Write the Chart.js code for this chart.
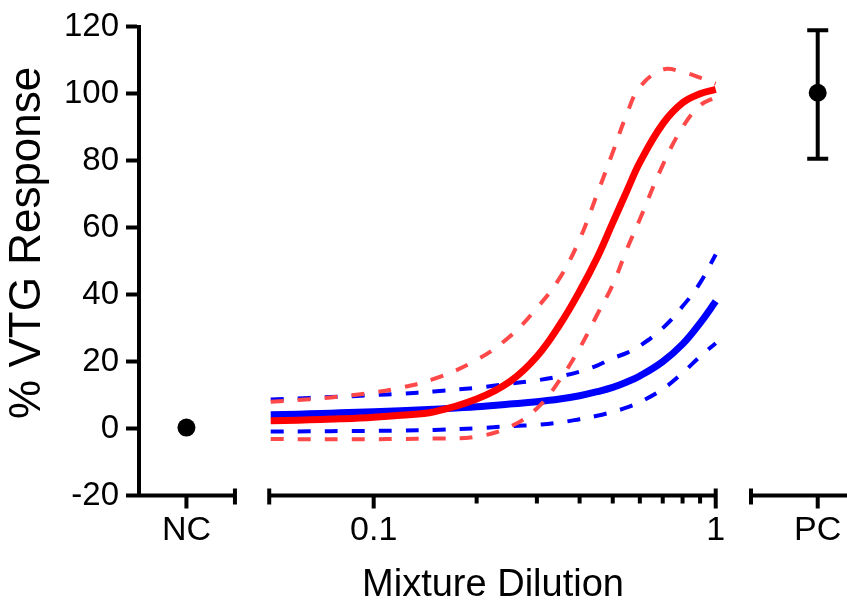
<!DOCTYPE html>
<html>
<head>
<meta charset="utf-8">
<script src="https://cdn.jsdelivr.net/npm/chart.js@4"></script>
<style>html, body { margin: 0; background: #fff; }</style>
</head>
<body>
<canvas id="chart" width="847" height="607"></canvas>
<script>
// Dose-response fits (red / blue) with 95% bands, plus NC and PC controls.

const DILUTION = [0.05, 0.06, 0.07, 0.08, 0.1, 0.12, 0.15, 0.2, 0.25, 0.3,
  0.35, 0.4, 0.45, 0.5, 0.55, 0.6, 0.7, 0.8, 0.9, 1.0];

const RED_FIT = [2.3, 2.5, 2.7, 2.9, 3.4, 4.0, 5.0, 8.8, 14, 21.5,
  31, 41, 51, 61.5, 71, 79.5, 91, 97.3, 100, 101.3];
const RED_UPPER = [8.0, 8.5, 9.0, 9.6, 10.8, 12.2, 14.8, 20.5, 27.5, 36,
  45, 56.5, 70, 82.5, 94, 102, 107.2, 106.5, 104.8, 103];
const RED_LOWER = [-3.1, -3.2, -3.2, -3.2, -3.2, -3.1, -3.0, -2.4, 0.5, 6,
  14.5, 24, 34, 43, 53.6, 62.5, 78.7, 90, 96.5, 99];

const BLUE_FIT = [4.1, 4.3, 4.5, 4.7, 5.0, 5.3, 5.8, 6.5, 7.3, 8.0,
  8.8, 9.8, 11, 12.3, 13.9, 15.7, 20, 25.2, 31.5, 38];
const BLUE_UPPER = [8.7, 9.0, 9.3, 9.5, 10.0, 10.4, 11.1, 12.2, 13.4, 14.4,
  15.6, 17.0, 18.8, 21, 22.6, 24.7, 30, 36.5, 43.5, 52];
const BLUE_LOWER = [-0.9, -0.85, -0.8, -0.75, -0.7, -0.6, -0.4, 0.1, 0.7, 1.1,
  1.8, 2.8, 3.8, 5.0, 6.3, 7.9, 11.8, 16.6, 21.5, 25.5];

const NC_MEAN = [0.3];
const PC_MEAN = [100.3];
const PC_LOW = [80.6];
const PC_HIGH = [119];

const X_LABELS = ['NC', '0.1', '1', 'PC'];
const X_MINOR = [0.2, 0.3, 0.4, 0.5, 0.6, 0.7, 0.8, 0.9];
const Y_TICKS = [-20, 0, 20, 40, 60, 80, 100, 120];

// where the controls sit on the (broken) log axis
const NC_X = 0.02835;
const PC_X = 1.987;
const X_MIN = 0.0206;
const X_MAX = 2.42;
const X_TICKS = [NC_X, 0.1, 1, PC_X];
const SEGMENTS = [[X_MIN, 0.0393], [0.0495, 1], [1.268, X_MAX]];

const FONT = "'Liberation Sans', Arial, sans-serif";
const RED = '#ff0000', RED_BAND = '#ff4848', BLUE = '#0000ff';

const pts = (ys) => DILUTION.map((d, i) => ({ x: d, y: ys[i] }));
const curve = (label, ys, color, width, dash) => ({
  label, data: pts(ys), showLine: true, borderColor: color, borderWidth: width,
  borderDash: dash || [], pointRadius: 0, tension: 0.4, fill: false,
});
const dot = (label, x, ys) => ({
  label, data: ys.map((v) => ({ x, y: v })), showLine: false,
  pointRadius: 9, backgroundColor: '#000', borderWidth: 0,
});

// Broken x axis: three segments with end caps, major and minor ticks.
const brokenAxis = {
  id: 'brokenAxis',
  afterDraw(chart) {
    const { ctx, scales: { x, y } } = chart;
    const y0 = y.bottom;
    const seg = (x1, y1, x2, y2) => { ctx.moveTo(x1, y1); ctx.lineTo(x2, y2); };
    ctx.save();
    ctx.strokeStyle = '#000';
    ctx.lineWidth = 4;
    ctx.beginPath();
    SEGMENTS.forEach(([a, b], i) => {
      const xa = i === 0 ? x.left - 2 : x.getPixelForValue(a);
      const xb = i === SEGMENTS.length - 1 ? x.right : x.getPixelForValue(b);
      seg(xa, y0, xb, y0);
      if (i > 0) seg(xa, y0 - 7, xa, y0 + 9);
      if (i < SEGMENTS.length - 1) seg(xb, y0 - 7, xb, y0 + 9);
    });
    X_TICKS.forEach((v) => {
      const px = x.getPixelForValue(v);
      seg(px, y0, px, y0 + 13);
    });
    X_MINOR.forEach((v) => {
      const px = x.getPixelForValue(v);
      seg(px, y0, px, y0 + 8);
    });
    ctx.stroke();
    ctx.restore();
  },
};

// SD bar on the positive control
const errorBar = {
  id: 'errorBar',
  beforeDatasetsDraw(chart) {
    const { ctx, scales: { x, y } } = chart;
    const px = x.getPixelForValue(PC_X);
    ctx.save();
    ctx.strokeStyle = '#000';
    ctx.lineWidth = 4;
    ctx.beginPath();
    PC_MEAN.forEach((m, i) => {
      const lo = y.getPixelForValue(PC_LOW[i]);
      const hi = y.getPixelForValue(PC_HIGH[i]);
      ctx.moveTo(px, lo); ctx.lineTo(px, hi);
      ctx.moveTo(px - 10.5, lo); ctx.lineTo(px + 10.5, lo);
      ctx.moveTo(px - 10.5, hi); ctx.lineTo(px + 10.5, hi);
    });
    ctx.stroke();
    ctx.restore();
  },
};

new Chart(document.getElementById('chart'), {
  type: 'scatter',
  data: {
    datasets: [
      curve('red fit', RED_FIT, RED, 7),
      curve('red upper', RED_UPPER, RED_BAND, 4, [13, 14]),
      curve('red lower', RED_LOWER, RED_BAND, 4, [13, 14]),
      curve('blue fit', BLUE_FIT, BLUE, 7),
      curve('blue upper', BLUE_UPPER, BLUE, 4, [13, 14]),
      curve('blue lower', BLUE_LOWER, BLUE, 4, [13, 14]),
      dot('NC', NC_X, NC_MEAN),
      dot('PC', PC_X, PC_MEAN),
    ],
  },
  options: {
    responsive: false,
    animation: false,
    layout: { autoPadding: false, padding: { top: 21, right: 0, left: 0, bottom: 0 } },
    plugins: { legend: { display: false }, tooltip: { enabled: false } },
    scales: {
      x: {
        type: 'logarithmic',
        min: X_MIN,
        max: X_MAX,
        bounds: 'data',
        grid: { display: false, drawTicks: false },
        border: { display: false },
        afterBuildTicks: (s) => { s.ticks = X_TICKS.map((v) => ({ value: v })); },
        afterFit: (s) => { s.height = 111.5; s.paddingLeft = 0; s.paddingRight = 0; },
        ticks: {
          autoSkip: false, maxRotation: 0, padding: 15, color: '#000',
          font: { size: 34, family: FONT },
          callback: (v, i) => X_LABELS[i],
        },
        title: {
          display: true, text: 'Mixture Dilution', color: '#000',
          font: { size: 38, family: FONT, lineHeight: 1.1 },
          padding: { top: 0, bottom: 1 },
        },
      },
      y: {
        min: -20,
        max: 120,
        afterBuildTicks: (s) => { s.ticks = Y_TICKS.map((v) => ({ value: v })); },
        afterFit: (s) => { s.width = 139; },
        grid: { drawOnChartArea: false, tickLength: 13, tickWidth: 4, tickColor: '#000' },
        border: { display: true, color: '#000', width: 4 },
        ticks: { padding: 7, color: '#000', font: { size: 33, family: FONT } },
        title: {
          display: true, text: '   % VTG Response', color: '#000',
          font: { size: 44, family: FONT, lineHeight: 1.1 },
          padding: { top: 4, bottom: 0 },
        },
      },
    },
  },
  plugins: [brokenAxis, errorBar],
});
</script>
</body>
</html>
